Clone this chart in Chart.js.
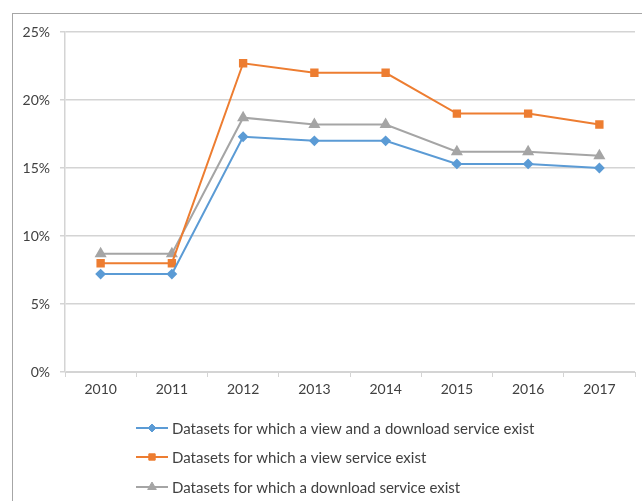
<!DOCTYPE html>
<html>
<head>
<meta charset="utf-8">
<script src="https://cdn.jsdelivr.net/npm/chart.js@4/dist/chart.umd.min.js"></script>
<style>
  html, body { margin: 0; padding: 0; background: #fff; overflow: hidden; }
  #wrap { position: relative; width: 642px; height: 501px; }
  #frame { position: absolute; left: 12px; top: 13px; width: 700px; height: 600px;
           border: 1px solid #a6a6a6; box-sizing: border-box; }
  canvas { position: absolute; left: 0; top: 0; }
</style>
</head>
<body>
<div id="wrap">
  <div id="frame"></div>
  <canvas id="chart" width="642" height="501"></canvas>
</div>
<script>
// years on the x axis
const years = ["2010", "2011", "2012", "2013", "2014", "2015", "2016", "2017"];

// share of datasets (%)
const viewAndDownload = [7.2, 7.2, 17.3, 17.0, 17.0, 15.3, 15.3, 15.0];
const viewOnly = [8.0, 8.0, 22.7, 22.0, 22.0, 19.0, 19.0, 18.2];
const downloadOnly = [8.7, 8.7, 18.7, 18.2, 18.2, 16.2, 16.2, 15.9];

const seriesNames = [
  "Datasets for which a view and a download service exist",
  "Datasets for which a view service exist",
  "Datasets for which a download service exist"
];

const FONT = "Lato, 'Open Sans', sans-serif";
const TXT = "#404040";

// legend stacked vertically under the plot, like the original
const stackedLegend = {
  id: "stackedLegend",
  afterDraw(chart) {
    const ctx = chart.ctx;
    const x0 = 136, x1 = 168, tx = 172;
    const rows = [428, 457, 487];
    ctx.save();
    ctx.font = "15px " + FONT;
    ctx.textBaseline = "middle";
    chart.data.datasets.forEach((ds, i) => {
      const y = rows[i];
      ctx.strokeStyle = ds.borderColor;
      ctx.lineWidth = 2;
      ctx.beginPath();
      ctx.moveTo(x0, y);
      ctx.lineTo(x1, y);
      ctx.stroke();
      ctx.fillStyle = ds.backgroundColor;
      ctx.strokeStyle = ds.borderColor;
      ctx.lineWidth = 1;
      Chart.helpers.drawPoint(ctx, { pointStyle: ds.pointStyle, radius: ds.pointRadius, rotation: 0, borderWidth: 1 }, (x0 + x1) / 2, y);
      ctx.fillStyle = TXT;
      ctx.fillText(ds.label, tx, y + 1);
    });
    ctx.restore();
  }
};

new Chart(document.getElementById("chart"), {
  type: "line",
  data: {
    labels: years,
    datasets: [
      {
        label: seriesNames[0],
        data: viewAndDownload,
        borderColor: "#5b9bd5",
        backgroundColor: "#5b9bd5",
        pointStyle: "rectRot",
        pointRadius: 4,
        borderWidth: 2
      },
      {
        label: seriesNames[1],
        data: viewOnly,
        borderColor: "#ed7d31",
        backgroundColor: "#ed7d31",
        pointStyle: "rect",
        pointRadius: 4.5,
        borderWidth: 2
      },
      {
        label: seriesNames[2],
        data: downloadOnly,
        borderColor: "#a5a5a5",
        backgroundColor: "#a5a5a5",
        pointStyle: "triangle",
        pointRadius: 5,
        borderWidth: 2
      }
    ]
  },
  options: {
    responsive: false,
    animation: false,
    layout: { padding: { top: 32, right: 4, bottom: 99, left: 0 } },
    plugins: {
      legend: { display: false },
      tooltip: { enabled: false }
    },
    elements: { line: { tension: 0 } },
    scales: {
      x: {
        offset: true,
        grid: { offset: true, drawOnChartArea: false, drawTicks: true, tickLength: 5, color: "#d4d4d4" },
        border: { color: "#d4d4d4", width: 1 },
        ticks: { color: TXT, font: { family: FONT, size: 14 }, padding: 4 },
        afterFit(s) { s.height = 30; }
      },
      y: {
        min: 0,
        max: 25,
        grid: { color: "#d4d4d4", tickLength: 5, lineWidth: 1.5 },
        border: { color: "#d4d4d4", width: 1.5 },
        ticks: {
          stepSize: 5,
          color: TXT,
          font: { family: FONT, size: 14 },
          padding: 10,
          callback: v => v + "%"
        },
        afterFit(s) { s.width = 65; }
      }
    }
  },
  plugins: [stackedLegend]
});
</script>
</body>
</html>
